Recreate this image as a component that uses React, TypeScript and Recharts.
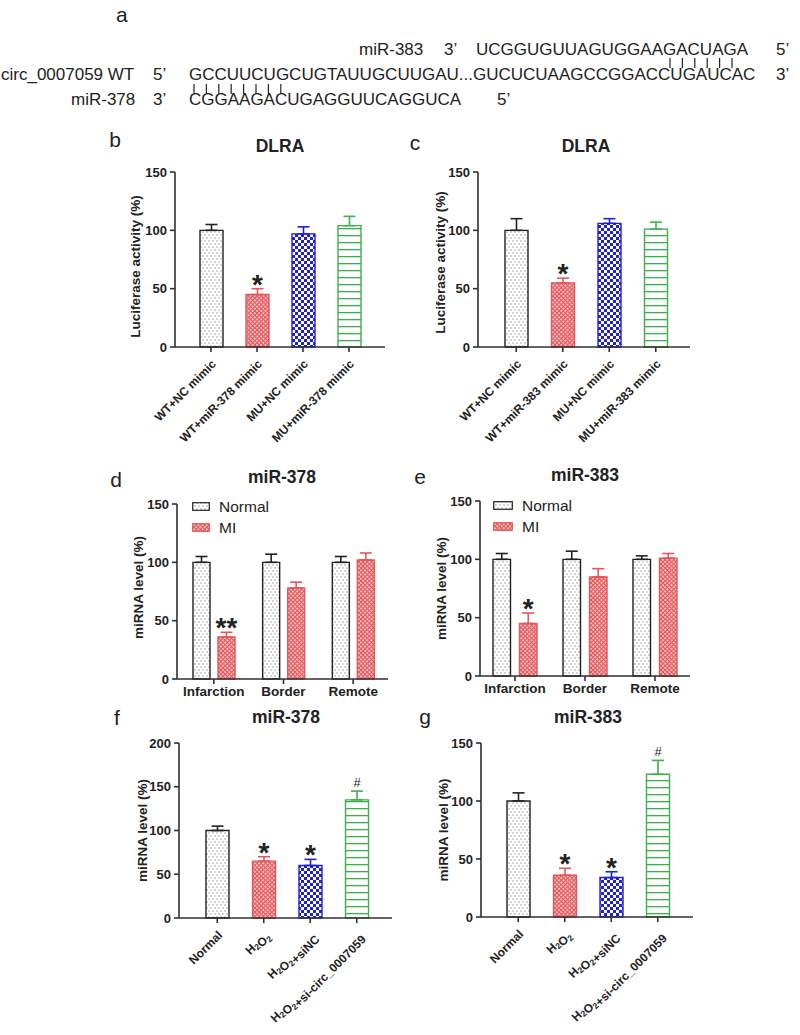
import React from "react";
import { BarChart, Bar, XAxis, YAxis, ErrorBar, Cell, LabelList, Legend } from "recharts";

const FONT = '"Liberation Sans", Arial, Helvetica, sans-serif';
const INK = "#222222";
const AXIS = "#303030";
const RED = "#e2575b";
const BLUE = "#2020d8";
const GREEN = "#3cb04c";

// panel a sequences
const seq383 = "UCGGUGUUAGUGGAAGACUAGA";
const seqCirc = "GCCUUCUGCUGTAUUGCUUGAU...GUCUCUAAGCCGGACCUGAUCAC";
const seq378 = "CGGAAGACUGAGGUUCAGGUCA";
const pairs383 = 6;
const pairs378 = 8;

// b / c: dual luciferase
const dlraGroups378 = ["WT+NC mimic", "WT+miR-378 mimic", "MU+NC mimic", "MU+miR-378 mimic"];
const dlra378Mean = [100, 45, 97, 104];
const dlra378Err = [5, 5, 6, 8];
const dlra378Sig = ["", "*", "", ""];

const dlraGroups383 = ["WT+NC mimic", "WT+miR-383 mimic", "MU+NC mimic", "MU+miR-383 mimic"];
const dlra383Mean = [100, 55, 106, 101];
const dlra383Err = [10, 4, 4, 6];
const dlra383Sig = ["", "*", "", ""];

// d / e: tissue regions
const regions = ["Infarction", "Border", "Remote"];
const legendNames = ["Normal", "MI"];
const mir378Normal = [100, 100, 100];
const mir378NormalErr = [5, 7, 5];
const mir378MI = [36, 78, 102];
const mir378MIErr = [4, 5, 6];
const mir378RegionSig = ["**", "", ""];

const mir383Normal = [100, 100, 100];
const mir383NormalErr = [5, 7, 3];
const mir383MI = [45, 85, 101];
const mir383MIErr = [9, 7, 4];
const mir383RegionSig = ["*", "", ""];

// f / g: H2O2 treatment
const treatGroups = ["Normal", "H₂O₂", "H₂O₂+siNC", "H₂O₂+si-circ_0007059"];
const treat378Mean = [100, 65, 60, 135];
const treat378Err = [5, 5, 7, 10];
const treat378Sig = ["", "*", "*", "#"];
const treat383Mean = [100, 36, 34, 123];
const treat383Err = [7, 6, 5, 12];
const treat383Sig = ["", "*", "*", "#"];

const ticks150 = [0, 50, 100, 150];
const ticks200 = [0, 50, 100, 150, 200];

const FILLS = ["url(#pDots)", "url(#pMesh)", "url(#pCheck)", "url(#pLines)"];
const STROKES = [INK, RED, BLUE, GREEN];

const singleRows = (names: string[], mean: number[], err: number[], sig: string[]) =>
  names.map((name, i) => ({ name, v: mean[i], err: err[i], sig: sig[i], k: i }));

const groupRows = (n: number[], ne: number[], m: number[], me: number[], sig: string[]) =>
  regions.map((name, i) => ({ name, n: n[i], ne: [0, ne[i]], m: m[i], me: [0, me[i]], mErr: me[i], sig: sig[i] }));

const axisStyle = { stroke: AXIS, strokeWidth: 1.6 };
const tickFont = { fontFamily: FONT, fontSize: 13, fontWeight: 700, fill: INK };
const catFont = { fontFamily: FONT, fontSize: 13.5, fontWeight: 700, fill: INK };

function PatternDefs() {
  return (
    <svg width={0} height={0} style={{ position: "absolute" }}>
      <defs>
        <pattern id="pDots" width="4" height="6" patternUnits="userSpaceOnUse">
          <rect width="4" height="6" fill="#fff" />
          <rect x="0.5" y="0.5" width="1" height="1" fill="#555" />
          <rect x="2.5" y="3.5" width="1" height="1" fill="#555" />
        </pattern>
        <pattern id="pMesh" width="3" height="3" patternUnits="userSpaceOnUse" patternTransform="rotate(45)">
          <rect width="3" height="3" fill="#fff" />
          <path d="M0 1.5H3M1.5 0V3" stroke={RED} strokeWidth="1.4" />
        </pattern>
        <pattern id="pCheck" width="6" height="6" patternUnits="userSpaceOnUse">
          <rect width="6" height="6" fill={BLUE} />
          <rect x="0" y="0" width="3" height="3" fill="#fff" />
          <rect x="3" y="3" width="3" height="3" fill="#fff" />
        </pattern>
        <pattern id="pLines" width="6" height="7" patternUnits="userSpaceOnUse">
          <rect width="6" height="7" fill="#fff" />
          <rect y="3" width="6" height="1.3" fill={GREEN} />
        </pattern>
      </defs>
    </svg>
  );
}

function Caption({ x, y, text, size, bold }: { x: number; y: number; text: string; size: number; bold?: boolean }) {
  return (
    <div
      style={{
        position: "absolute",
        left: x,
        top: y,
        transform: "translate(-50%,-50%)",
        fontFamily: FONT,
        fontSize: size,
        fontWeight: bold ? 700 : 400,
        lineHeight: 1,
        whiteSpace: "nowrap",
        color: INK,
      }}
    >
      {text}
    </div>
  );
}

function PanelA() {
  const t = { fontFamily: FONT, fontSize: 17, fill: INK };
  return (
    <svg width={800} height={115} style={{ position: "absolute", left: 0, top: 0 }}>
      <text x={116} y={22} fontFamily={FONT} fontSize={21} fill={INK}>a</text>
      <text x={359} y={55} {...t}>miR-383</text>
      <text x={444} y={55} {...t}>3’</text>
      <text x={476} y={55} {...t}>{seq383}</text>
      <text x={776} y={55} {...t}>5’</text>
      {Array.from({ length: pairs383 }, (_, k) => (
        <line key={k} x1={670 + k * 12.4} x2={670 + k * 12.4} y1={58} y2={68} stroke={INK} strokeWidth={1.2} />
      ))}
      <text x={1} y={80} {...t}>circ_0007059 WT</text>
      <text x={153} y={80} {...t}>5’</text>
      <text x={189} y={80} {...t}>{seqCirc}</text>
      <text x={776} y={80} {...t}>3’</text>
      {Array.from({ length: pairs378 }, (_, k) => (
        <line key={k} x1={194 + k * 12.4} x2={194 + k * 12.4} y1={84} y2={94} stroke={INK} strokeWidth={1.2} />
      ))}
      <text x={71} y={105} {...t}>miR-378</text>
      <text x={153} y={105} {...t}>3’</text>
      <text x={189} y={105} {...t}>{seq378}</text>
      <text x={497} y={105} {...t}>5’</text>
    </svg>
  );
}

function YTitle({ cx, cy, text }: any) {
  return (
    <text
      x={cx}
      y={cy}
      transform={`rotate(-90 ${cx} ${cy})`}
      textAnchor="middle"
      dominantBaseline="central"
      fontFamily={FONT}
      fontSize={13.5}
      fontWeight={700}
      fill={INK}
    >
      {text}
    </text>
  );
}

// "₂" is drawn as a real lowered, smaller 2
function withSubs(label: string) {
  const parts = label.split("₂");
  return parts.map((p, i) => (
    <React.Fragment key={i}>
      <tspan>{p}</tspan>
      {i < parts.length - 1 && (
        <tspan fontSize={8.5} dy={3}>
          2
        </tspan>
      )}
      {i < parts.length - 1 && <tspan dy={-3}>{""}</tspan>}
    </React.Fragment>
  ));
}

function SlantTick(props: any) {
  const { x, y, payload } = props;
  return (
    <g transform={`translate(${x + 3},${y + 8})`}>
      <text transform="rotate(-45)" textAnchor="end" dominantBaseline="central" fontFamily={FONT} fontSize={12} fontWeight={700} fill={INK}>
        {withSubs(String(payload.value))}
      </text>
    </g>
  );
}

function sigContent(rows: any[], vKey: string, eKey: string) {
  return (p: any) => {
    const r = rows[p.index ?? 0];
    if (!r || !r.sig) return null;
    const vb = p.viewBox ?? p;
    const x = Number(p.x ?? vb.x) + Number(p.width ?? vb.width) / 2;
    const y = Number(p.y ?? vb.y);
    const h = Math.abs(Number(p.height ?? vb.height));
    const top = y - (r[eKey] * h) / r[vKey];
    if (r.sig === "#") {
      return (
        <text x={x} y={top - 4.5} textAnchor="middle" fontFamily={FONT} fontSize={13} fill={INK}>
          #
        </text>
      );
    }
    return (
      <text x={x} y={top + 5} textAnchor="middle" fontFamily={FONT} fontSize={28} fontWeight={700} fill={INK}>
        {r.sig}
      </text>
    );
  };
}

type Box = { left: number; top: number; width: number; height: number; plot: number[] };

function frame({ left, top, width, height, plot }: Box) {
  return {
    margin: { top: plot[2] - top, right: left + width - plot[1], left: 0, bottom: 0 },
    yW: plot[0] - left,
    xH: top + height - plot[3],
    cyMid: (plot[2] + plot[3]) / 2 - top,
  };
}

function SinglePanel(props: Box & { rows: any[]; yMax: number; yTicks: number[]; yTitle: string; yTitleX: number; yTitleDy: number; padL: number; padR: number; barSize: number }) {
  const { left, top, width, height, rows, yMax, yTicks, yTitle, yTitleX, yTitleDy, padL, padR, barSize } = props;
  const f = frame(props);
  return (
    <div style={{ position: "absolute", left, top }}>
      <BarChart width={width} height={height} data={rows} margin={f.margin}>
        <XAxis
          dataKey="name"
          height={f.xH}
          padding={{ left: padL, right: padR }}
          interval={0}
          tickSize={5}
          tick={<SlantTick />}
          axisLine={axisStyle}
          tickLine={axisStyle}
        />
        <YAxis
          width={f.yW}
          domain={[0, yMax]}
          ticks={yTicks}
          interval={0}
          tickSize={5}
          tickMargin={3}
          tick={tickFont}
          axisLine={axisStyle}
          tickLine={axisStyle}
          label={<YTitle cx={yTitleX} cy={f.cyMid + yTitleDy} text={yTitle} />}
        />
        <Bar dataKey="v" barSize={barSize} strokeWidth={1.4} isAnimationActive={false}>
          {rows.map((r, i) => (
            <Cell key={r.name} fill={FILLS[i]} stroke={STROKES[i]} />
          ))}
          {STROKES.map((c, i) => (
            <ErrorBar
              key={i}
              dataKey={(d: any) => {
                const r = d && d.payload ? d.payload : d;
                return r && r.k === i ? [0, r.err] : null;
              }}
              direction="y"
              width={6}
              stroke={c}
              strokeWidth={1.6}
              isAnimationActive={false}
            />
          ))}
          <LabelList dataKey="sig" content={sigContent(rows, "v", "err")} />
        </Bar>
      </BarChart>
    </div>
  );
}

function legendContent(swatchW: number) {
  const fills = [FILLS[0], FILLS[1]];
  const strokes = [INK, RED];
  return () => (
    <div style={{ fontFamily: FONT, fontSize: 15.5, color: INK, lineHeight: 1 }}>
      {legendNames.map((name, i) => (
        <div key={name} style={{ display: "flex", alignItems: "center", height: 21 }}>
          <svg width={swatchW} height={9} style={{ marginRight: 9 }}>
            <rect x={0.7} y={0.7} width={swatchW - 1.4} height={7.6} fill={fills[i]} stroke={strokes[i]} strokeWidth={1.2} />
          </svg>
          <span>{name}</span>
        </div>
      ))}
    </div>
  );
}

function GroupPanel(props: Box & { rows: any[]; yTitleX: number; yTitleDy: number; padL: number; padR: number; barSize: number; barGap: number; legendX: number; legendY: number; swatchW: number }) {
  const { left, top, width, height, rows, yTitleX, yTitleDy, padL, padR, barSize, barGap, legendX, legendY, swatchW } = props;
  const f = frame(props);
  return (
    <div style={{ position: "absolute", left, top }}>
      <BarChart width={width} height={height} data={rows} margin={f.margin} barGap={barGap}>
        <XAxis
          dataKey="name"
          height={f.xH}
          padding={{ left: padL, right: padR }}
          interval={0}
          tickSize={5}
          tickMargin={2}
          tick={catFont}
          axisLine={axisStyle}
          tickLine={axisStyle}
        />
        <YAxis
          width={f.yW}
          domain={[0, 150]}
          ticks={ticks150}
          interval={0}
          tickSize={5}
          tickMargin={3}
          tick={tickFont}
          axisLine={axisStyle}
          tickLine={axisStyle}
          label={<YTitle cx={yTitleX} cy={f.cyMid + yTitleDy} text="miRNA level (%)" />}
        />
        <Legend
          layout="vertical"
          align="center"
          verticalAlign="middle"
          content={legendContent(swatchW)}
          wrapperStyle={{ left: legendX, top: legendY, width: "auto", height: "auto" }}
        />
        <Bar dataKey="n" name={legendNames[0]} barSize={barSize} fill={FILLS[0]} stroke={INK} strokeWidth={1.4} isAnimationActive={false}>
          <ErrorBar dataKey="ne" direction="y" width={6} stroke={INK} strokeWidth={1.6} isAnimationActive={false} />
        </Bar>
        <Bar dataKey="m" name={legendNames[1]} barSize={barSize} fill={FILLS[1]} stroke={RED} strokeWidth={1.4} isAnimationActive={false}>
          <ErrorBar dataKey="me" direction="y" width={6} stroke={RED} strokeWidth={1.6} isAnimationActive={false} />
          <LabelList dataKey="sig" content={sigContent(rows, "m", "mErr")} />
        </Bar>
      </BarChart>
    </div>
  );
}

export default function App() {
  const b = singleRows(dlraGroups378, dlra378Mean, dlra378Err, dlra378Sig);
  const c = singleRows(dlraGroups383, dlra383Mean, dlra383Err, dlra383Sig);
  const d = groupRows(mir378Normal, mir378NormalErr, mir378MI, mir378MIErr, mir378RegionSig);
  const e = groupRows(mir383Normal, mir383NormalErr, mir383MI, mir383MIErr, mir383RegionSig);
  const f = singleRows(treatGroups, treat378Mean, treat378Err, treat378Sig);
  const g = singleRows(treatGroups, treat383Mean, treat383Err, treat383Sig);

  return (
    <div style={{ position: "absolute", left: 0, top: 0, width: 800, height: 1035, background: "#fff", overflow: "hidden" }}>
      <style>{`.recharts-surface{overflow:visible}`}</style>
      <PatternDefs />
      <PanelA />

      <Caption x={115} y={139} text="b" size={21} />
      <Caption x={280} y={147} text="DLRA" size={17.5} bold />
      <SinglePanel left={100} top={120} width={300} height={310} plot={[175, 385, 172, 347]} rows={b} yMax={150} yTicks={ticks150}
        yTitle="Luciferase activity (%)" yTitleX={35} yTitleDy={7} padL={13} padR={13} barSize={23} />

      <Caption x={415} y={142} text="c" size={21} />
      <Caption x={586} y={147} text="DLRA" size={17.5} bold />
      <SinglePanel left={400} top={120} width={300} height={310} plot={[478, 690, 172, 347]} rows={c} yMax={150} yTicks={ticks150}
        yTitle="Luciferase activity (%)" yTitleX={40} yTitleDy={3} padL={15} padR={11} barSize={23} />

      <Caption x={116} y={479} text="d" size={21} />
      <Caption x={282} y={478} text="miR-378" size={17.5} bold />
      <GroupPanel left={100} top={390} width={300} height={310} plot={[177, 388, 504, 679]} rows={d}
        yTitleX={38} yTitleDy={-4} padL={2} padR={0} barSize={17} barGap={8} legendX={92} legendY={106} swatchW={18} />

      <Caption x={420} y={476} text="e" size={21} />
      <Caption x={585} y={476} text="miR-383" size={17.5} bold />
      <GroupPanel left={400} top={390} width={300} height={310} plot={[480, 690, 501, 676]} rows={e}
        yTitleX={41} yTitleDy={0} padL={0} padR={0} barSize={17.5} barGap={9} legendX={93} legendY={105} swatchW={20} />

      <Caption x={117} y={717} text="f" size={21} />
      <Caption x={286} y={718} text="miR-378" size={17.5} bold />
      <SinglePanel left={100} top={700} width={300} height={335} plot={[179, 392, 743, 918]} rows={f} yMax={200} yTicks={ticks200}
        yTitle="miRNA level (%)" yTitleX={42} yTitleDy={0} padL={15} padR={12} barSize={23} />

      <Caption x={425} y={716} text="g" size={21} />
      <Caption x={588} y={718} text="miR-383" size={17.5} bold />
      <SinglePanel left={400} top={700} width={300} height={335} plot={[481, 693, 743, 917]} rows={g} yMax={150} yTicks={ticks150}
        yTitle="miRNA level (%)" yTitleX={43} yTitleDy={0} padL={14} padR={12} barSize={23} />
    </div>
  );
}
